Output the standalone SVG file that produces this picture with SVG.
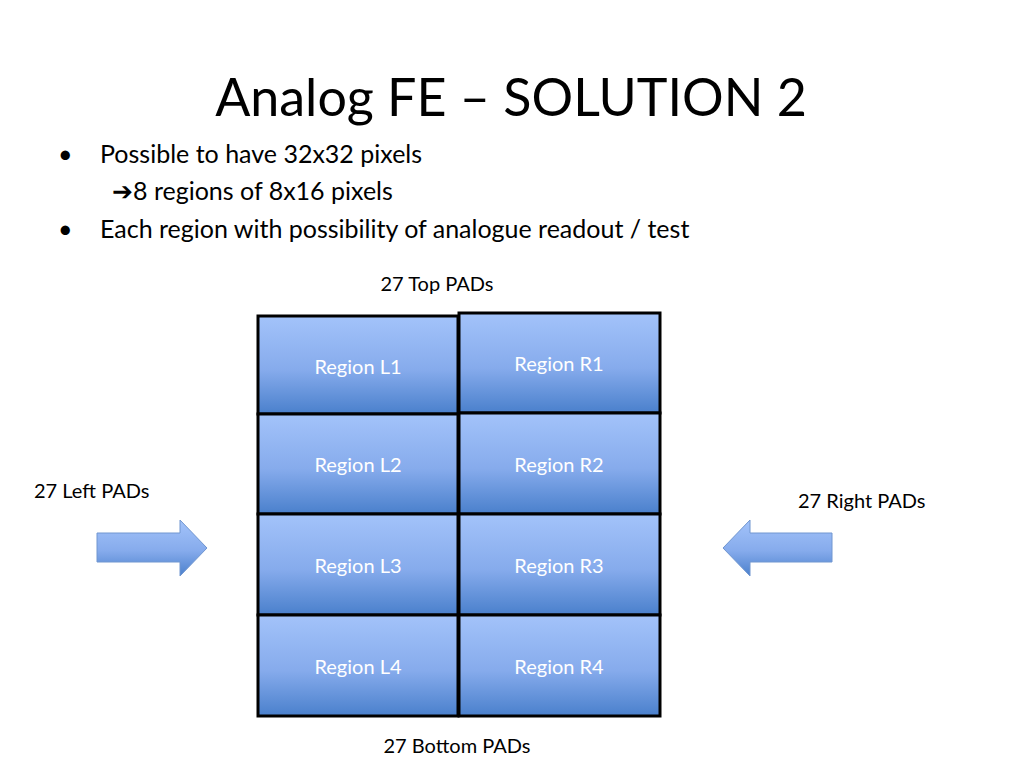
<svg xmlns="http://www.w3.org/2000/svg" width="1024" height="768" viewBox="0 0 1024 768">
<defs>
<linearGradient id="g" x1="0" y1="0" x2="0" y2="1">
<stop offset="0" stop-color="#a3c3fa"/><stop offset="0.55" stop-color="#86abec"/><stop offset="1" stop-color="#4a80cc"/>
</linearGradient>
<style>
text{font-family:Lato,"Open Sans",sans-serif;fill:#000}
.r{fill:url(#g);stroke:#000;stroke-width:3}
.rl{fill:#fff;font-size:20px;text-anchor:middle}
.lab{font-size:20px}
.b{font-size:25px}
.ar{fill:url(#g);stroke:#7096d0;stroke-width:1}
</style>
</defs>
<rect width="1024" height="768" fill="#fff"/>
<text x="511" y="116" font-size="52" text-anchor="middle">Analog FE – SOLUTION 2</text>
<text class="b" x="58" y="163">•</text>
<text class="b" x="100" y="163">Possible to have 32x32 pixels</text>
<text class="b" x="112" y="200">➔8 regions of 8x16 pixels</text>
<text class="b" x="58" y="238">•</text>
<text class="b" x="100" y="238">Each region with possibility of analogue readout / test</text>
<text class="lab" x="437" y="291" text-anchor="middle">27 Top  PADs</text>
<text class="lab" x="457" y="753" text-anchor="middle">27 Bottom  PADs</text>
<text class="lab" x="34" y="498">27 Left  PADs</text>
<text class="lab" x="798" y="508">27 Right  PADs</text>
<g id="L1"><rect class="r" x="258" y="316" width="200" height="98"/><text class="rl" x="358" y="374">Region L1</text></g>
<g id="L2"><rect class="r" x="258" y="414" width="200" height="100"/><text class="rl" x="358" y="472">Region L2</text></g>
<g id="L3"><rect class="r" x="258" y="514" width="200" height="101"/><text class="rl" x="358" y="573">Region L3</text></g>
<g id="L4"><rect class="r" x="258" y="615" width="200" height="101"/><text class="rl" x="358" y="674">Region L4</text></g>
<g id="R1"><rect class="r" x="459" y="313" width="201" height="100"/><text class="rl" x="559" y="371">Region R1</text></g>
<g id="R2"><rect class="r" x="459" y="413" width="201" height="101"/><text class="rl" x="559" y="472">Region R2</text></g>
<g id="R3"><rect class="r" x="459" y="514" width="201" height="101"/><text class="rl" x="559" y="573">Region R3</text></g>
<g id="R4"><rect class="r" x="459" y="615" width="201" height="101"/><text class="rl" x="559" y="674">Region R4</text></g>
<g id="connectors">
<polygon class="ar" points="97,533 180,533 180,520 207,548 180,576 180,562 97,562"/>
<polygon class="ar" points="832,533 750,533 750,520 723,548 750,576 750,562 832,562"/>
</g>
</svg>
